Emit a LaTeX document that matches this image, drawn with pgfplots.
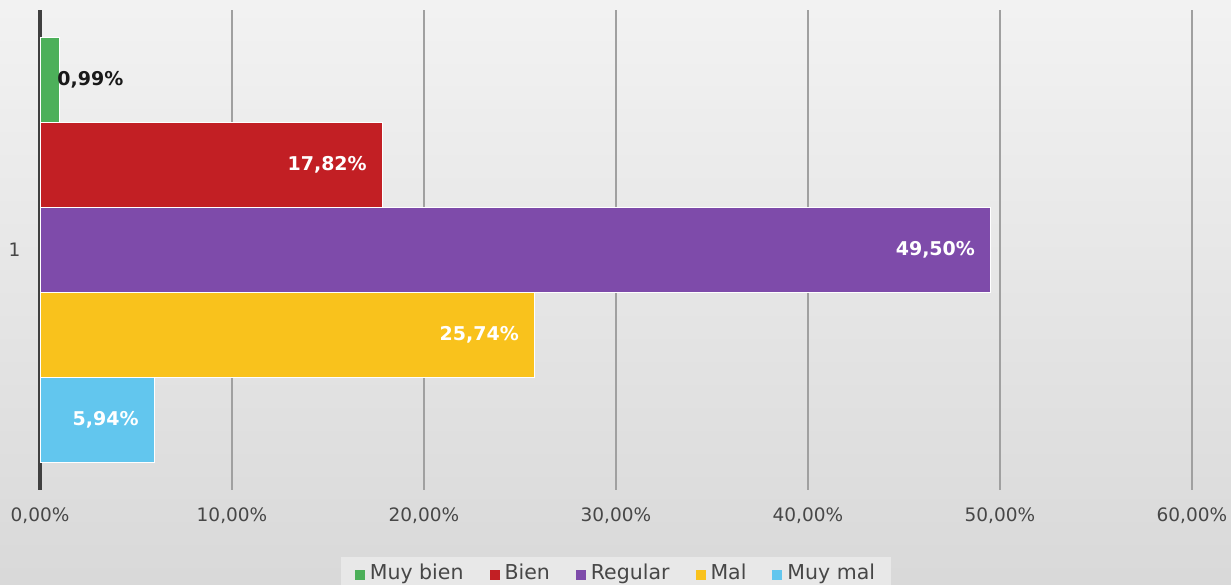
\documentclass[border=0pt]{standalone}
\usepackage{pgfplots}
\pgfplotsset{compat=1.18}
\usepackage{fontspec}
\setmainfont{DejaVu Sans}
\definecolor{cGreen}{HTML}{4DB05A}
\definecolor{cRed}{HTML}{C21F24}
\definecolor{cPurple}{HTML}{7E4BAA}
\definecolor{cYellow}{HTML}{F9C21C}
\definecolor{cBlue}{HTML}{62C6EE}
\definecolor{cGrid}{HTML}{A0A0A0}
\definecolor{cZero}{HTML}{404040}
\definecolor{cTick}{HTML}{474747}
\begin{document}
\begin{tikzpicture}[x=1pt,y=1pt]
\useasboundingbox (0,0) rectangle (1231,585);
\shade[top color=white!95!black, bottom color=white!85!black] (0,0) rectangle (1231,585);
\begin{axis}[
  at={(40pt,95pt)}, anchor=south west,
  scale only axis, width=1152pt, height=480pt,
  xbar=0pt, bar width=85pt,
  xmin=0, xmax=60, ymin=0.5, ymax=1.5,
  axis lines=left, axis line style={draw=none,-},
  xtick={0,10,20,30,40,50,60},
  xticklabels={{0,00\%},{10,00\%},{20,00\%},{30,00\%},{40,00\%},{50,00\%},{60,00\%}},
  ytick={1}, yticklabels={1},
  major tick length=0pt,
  xmajorgrids, grid style={color=cGrid, line width=1.6pt},
  extra x ticks={0}, extra x tick labels={},
  extra x tick style={grid style={color=cZero, line width=4pt}},
  tick label style={font=\fontsize{18.5}{20}\selectfont, text=cTick},
  xticklabel shift=14pt,
  yticklabel shift=16pt,
  legend style={at={(0.5,-0.14)}, anchor=north, draw=none, fill=white!91!black,
    font=\fontsize{20.5}{22}\selectfont, text=cTick, legend columns=-1,
    inner xsep=14pt, inner ysep=5pt,
    /tikz/every odd column/.append style={column sep=3pt},
    /tikz/every even column/.append style={column sep=24pt}},
  legend image code/.code={\fill[#1,draw=none] (0pt,-7pt) rectangle (10pt,3pt);},
  point meta=explicit symbolic,
  nodes near coords,
  every node near coord/.append style={anchor=east, inner sep=0pt, xshift=-15pt,
     text=white, font=\fontsize{19}{21}\selectfont\bfseries},
]
\addplot[fill=cGreen, draw=white, line width=0.8pt, bar shift=170pt,
  every node near coord/.append style={anchor=west, xshift=13pt, text=black!90}]
  coordinates {(0.99,1) [0,99\%]};
\addplot[fill=cRed, draw=white, line width=0.8pt, bar shift=85pt] coordinates {(17.82,1) [17,82\%]};
\addplot[fill=cPurple, draw=white, line width=0.8pt, bar shift=0pt] coordinates {(49.50,1) [49,50\%]};
\addplot[fill=cYellow, draw=white, line width=0.8pt, bar shift=-85pt] coordinates {(25.74,1) [25,74\%]};
\addplot[fill=cBlue, draw=white, line width=0.8pt, bar shift=-170pt] coordinates {(5.94,1) [5,94\%]};
\legend{Muy bien, Bien, Regular, Mal, Muy mal}
\end{axis}
\end{tikzpicture}
\end{document}
